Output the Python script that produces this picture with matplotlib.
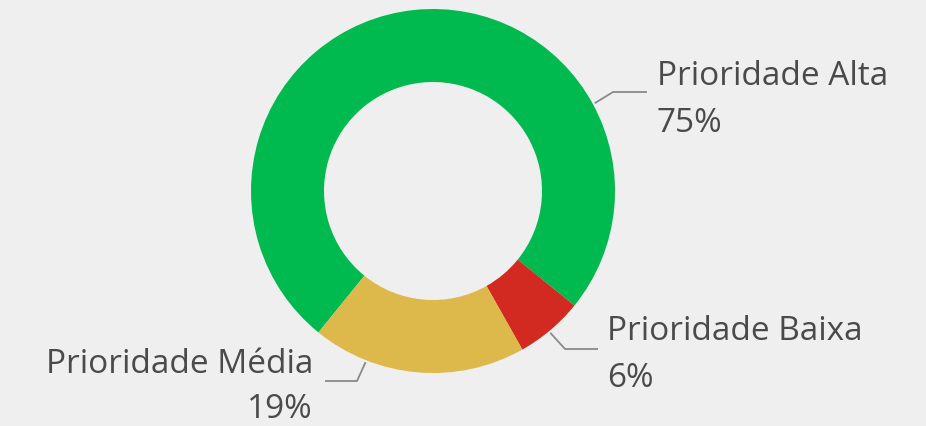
import numpy as np
import matplotlib
matplotlib.use("Agg")
import matplotlib.pyplot as plt

# data
labels = ["Prioridade Alta", "Prioridade Baixa", "Prioridade Média"]
shares = [75, 6, 19]
colors = ["#00B94F", "#D22A20", "#DDB84A"]

BG = "#EFEFEF"
TXT = "#4A4A4A"
W, H = 926, 427

fig = plt.figure(figsize=(W / 100, H / 100), dpi=100, facecolor=BG)
ax = fig.add_axes([0, 0, 1, 1])

cx, cy, r = 433, H - 192, 182
ax.pie(shares, colors=colors, startangle=231, counterclock=False,
       center=(cx, cy), radius=r, frame=True,
       wedgeprops=dict(width=r - 109, linewidth=0))
ax.set_xlim(0, W)
ax.set_ylim(0, H)
ax.set_aspect("equal")
ax.axis("off")

# label layout: (angle of leader on ring, elbow, line end, text x, align, baselines)
layout = [
    (28.5, (613, 93), (647, 93), 657, "left", 85, 132),
    (-50.4, (565, 350), (598, 350), 607, "left", 340, 387),
    (-111.5, (357, 382), (325, 382), 313, "right", 373, 418),
]

fs = 24
for (lab, val), (ang, elb, end, tx, ha, y1, y2) in zip(zip(labels, shares), layout):
    a = np.radians(ang)
    sx, sy = cx + (r + 2) * np.cos(a), cy + (r + 2) * np.sin(a)
    ax.plot([sx, elb[0], end[0]], [sy, H - elb[1], H - end[1]],
            color="#8A8A8A", lw=1.3, solid_capstyle="butt")
    ax.text(tx, H - y1, lab, ha=ha, va="baseline", fontsize=fs,
            color=TXT, family="Open Sans")
    ax.text(tx, H - y2, f"{val}%", ha=ha, va="baseline", fontsize=fs,
            color=TXT, family="Open Sans")

fig.savefig("out.png", dpi=100, facecolor=BG)
